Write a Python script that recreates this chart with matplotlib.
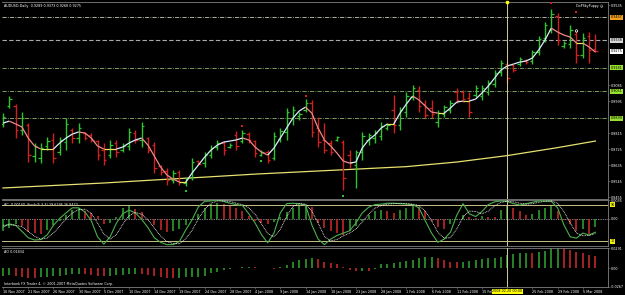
import matplotlib
matplotlib.use("Agg")
import matplotlib.pyplot as plt
from matplotlib.collections import LineCollection
import numpy as np

# --- AUDUSD daily bars, 16 Nov 2007 .. 7 Mar 2008 ---
open_ = [0.8866, 0.8967, 0.8967, 0.8832, 0.8860, 0.8686, 0.8674, 0.8742, 0.8776, 0.8708,
         0.8764, 0.8832, 0.8787, 0.8815, 0.8804, 0.8770, 0.8719, 0.8691, 0.8759, 0.8719,
         0.8742, 0.8815, 0.8776, 0.8787, 0.8747, 0.8629, 0.8601, 0.8551, 0.8596, 0.8534,
         0.8562, 0.8657, 0.8646, 0.8691, 0.8736, 0.8759, 0.8736, 0.8804, 0.8770, 0.8809,
         0.8770, 0.8691, 0.8708, 0.8674, 0.8781, 0.8821, 0.8899, 0.8910, 0.8944, 0.8984,
         0.8843, 0.8776, 0.8759, 0.8776, 0.8764, 0.8691, 0.8635, 0.8708, 0.8776, 0.8787,
         0.8798, 0.8843, 0.8944, 0.8860, 0.8933, 0.9017, 0.9057, 0.8978, 0.8956, 0.8877,
         0.8922, 0.8944, 0.9046, 0.9046, 0.9012, 0.9029, 0.9023, 0.9046, 0.9091, 0.9158,
         0.9203, 0.9197, 0.9203, 0.9226, 0.9220, 0.9270, 0.9349, 0.9394, 0.9473, 0.9304,
         0.9316, 0.9372, 0.9254, 0.9360, 0.9289]
high = [0.8927, 0.9023, 0.8978, 0.8933, 0.8871, 0.8759, 0.8759, 0.8792, 0.8815, 0.8792,
        0.8899, 0.8843, 0.8871, 0.8821, 0.8815, 0.8776, 0.8759, 0.8776, 0.8776, 0.8759,
        0.8843, 0.8832, 0.8877, 0.8792, 0.8764, 0.8635, 0.8618, 0.8607, 0.8607, 0.8567,
        0.8674, 0.8663, 0.8708, 0.8747, 0.8776, 0.8770, 0.8759, 0.8826, 0.8832, 0.8821,
        0.8776, 0.8719, 0.8719, 0.8821, 0.8843, 0.8956, 0.8967, 0.8933, 0.9006, 0.9001,
        0.8905, 0.8871, 0.8776, 0.8798, 0.8776, 0.8719, 0.8719, 0.8821, 0.8815, 0.8832,
        0.8877, 0.8871, 0.9029, 0.8961, 0.9046, 0.9085, 0.9079, 0.9001, 0.9001, 0.8944,
        0.8972, 0.9001, 0.9068, 0.9057, 0.9046, 0.9085, 0.9085, 0.9113, 0.9169, 0.9226,
        0.9214, 0.9203, 0.9242, 0.9231, 0.9282, 0.9360, 0.9439, 0.9512, 0.9490, 0.9332,
        0.9422, 0.9389, 0.9377, 0.9383, 0.9373]
low = [0.8849, 0.8956, 0.8787, 0.8804, 0.8652, 0.8652, 0.8646, 0.8719, 0.8646, 0.8691,
       0.8719, 0.8759, 0.8759, 0.8776, 0.8764, 0.8663, 0.8635, 0.8674, 0.8680, 0.8708,
       0.8719, 0.8759, 0.8736, 0.8702, 0.8590, 0.8579, 0.8522, 0.8534, 0.8522, 0.8517,
       0.8551, 0.8635, 0.8624, 0.8674, 0.8719, 0.8691, 0.8731, 0.8719, 0.8759, 0.8759,
       0.8680, 0.8686, 0.8646, 0.8663, 0.8764, 0.8776, 0.8860, 0.8888, 0.8933, 0.8792,
       0.8736, 0.8702, 0.8691, 0.8770, 0.8494, 0.8618, 0.8506, 0.8663, 0.8747, 0.8759,
       0.8776, 0.8832, 0.8815, 0.8832, 0.8905, 0.9001, 0.8933, 0.8899, 0.8899, 0.8849,
       0.8905, 0.8927, 0.8984, 0.8989, 0.8905, 0.9017, 0.9001, 0.9029, 0.9074, 0.9136,
       0.9096, 0.9158, 0.9192, 0.9203, 0.9203, 0.9254, 0.9327, 0.9377, 0.9310, 0.9293,
       0.9293, 0.9209, 0.9237, 0.9209, 0.9268]
close = [0.8905, 0.9006, 0.8832, 0.8899, 0.8691, 0.8742, 0.8731, 0.8770, 0.8674, 0.8776,
         0.8866, 0.8787, 0.8843, 0.8787, 0.8776, 0.8691, 0.8663, 0.8747, 0.8708, 0.8742,
         0.8821, 0.8776, 0.8854, 0.8719, 0.8618, 0.8596, 0.8551, 0.8590, 0.8539, 0.8556,
         0.8652, 0.8641, 0.8691, 0.8731, 0.8759, 0.8719, 0.8747, 0.8742, 0.8815, 0.8776,
         0.8702, 0.8708, 0.8663, 0.8798, 0.8826, 0.8933, 0.8944, 0.8922, 0.8984, 0.8821,
         0.8764, 0.8719, 0.8708, 0.8792, 0.8562, 0.8646, 0.8708, 0.8798, 0.8804, 0.8815,
         0.8854, 0.8860, 0.8860, 0.8944, 0.9023, 0.9068, 0.8967, 0.8916, 0.8922, 0.8927,
         0.8961, 0.8984, 0.9001, 0.9006, 0.8933, 0.9068, 0.9068, 0.9096, 0.9152, 0.9209,
         0.9124, 0.9169, 0.9231, 0.9214, 0.9270, 0.9344, 0.9422, 0.9484, 0.9338, 0.9321,
         0.9394, 0.9254, 0.9349, 0.9282, 0.9275]

# fast (colour-switching) moving average
ma_fast = [0.8871, 0.8882, 0.8866, 0.8849, 0.8787, 0.8742, 0.8725, 0.8725, 0.8725, 0.8759,
           0.8787, 0.8809, 0.8821, 0.8815, 0.8787, 0.8742, 0.8725, 0.8725, 0.8725, 0.8736,
           0.8759, 0.8776, 0.8787, 0.8747, 0.8686, 0.8624, 0.8579, 0.8556, 0.8539, 0.8539,
           0.8590, 0.8635, 0.8680, 0.8719, 0.8747, 0.8764, 0.8770, 0.8776, 0.8787, 0.8776,
           0.8736, 0.8708, 0.8691, 0.8731, 0.8787, 0.8843, 0.8899, 0.8939, 0.8961, 0.8927,
           0.8843, 0.8776, 0.8742, 0.8702, 0.8657, 0.8646, 0.8652, 0.8731, 0.8776, 0.8804,
           0.8843, 0.8866, 0.8866, 0.8927, 0.8978, 0.9023, 0.9001, 0.8967, 0.8933, 0.8927,
           0.8927, 0.8956, 0.8989, 0.8995, 0.8995, 0.9006, 0.9040, 0.9079, 0.9124, 0.9169,
           0.9192, 0.9203, 0.9214, 0.9220, 0.9237, 0.9282, 0.9338, 0.9405, 0.9383, 0.9366,
           0.9355, 0.9321, 0.9321, 0.9299, 0.9270]

# slow moving average (yellow), sampled every 8 bars
ma_slow_idx = [0, 8, 16, 24, 32, 40, 48, 56, 64, 72, 80, 88, 94]
ma_slow = [0.8506, 0.8520, 0.8534, 0.8551, 0.8567, 0.8584, 0.8598, 0.8612, 0.8626,
           0.8652, 0.8688, 0.8733, 0.8770]

# fractal markers
frac_up_idx = [38, 48, 87, 91]
frac_up_val = [0.8854, 0.9023, 0.9546, 0.9496]
frac_dn_idx = [29, 41, 54]
frac_dn_val = [0.8489, 0.8657, 0.8461]

# horizontal levels on the price panel
levels = [0.9467, 0.9338, 0.9181, 0.9051, 0.8899]
price_ticks = [0.9535, 0.9445, 0.9355, 0.9265, 0.9175, 0.9085, 0.8995, 0.8905,
               0.8815, 0.8725, 0.8635, 0.8545, 0.8455]

# Stochastic(5,3,3)
stoch_main = [41, 48, 45, 32, 18, 13, 14, 24, 45, 60, 72, 83, 83, 74, 55, 20, 4, 20, 50, 70,
              78, 72, 58, 40, 18, 8, 3, 3, 10, 35, 57, 85, 97, 98, 100, 97, 93, 90, 88, 70,
              50, 25, 7, 28, 72, 92, 93, 92, 89, 46, 15, 3, 15, 23, 28, 33, 50, 72, 84, 90,
              91, 93, 93, 92, 91, 90, 83, 55, 28, 8, 15, 30, 67, 92, 70, 64, 75, 90, 96, 98,
              97, 92, 89, 92, 95, 98, 98, 97, 83, 46, 20, 17, 28, 24, 30]
stoch_signal = [45, 46, 45, 42, 32, 21, 15, 17, 28, 43, 59, 72, 79, 80, 71, 50, 26, 15, 25, 47,
                66, 73, 69, 57, 39, 22, 10, 5, 5, 16, 34, 59, 80, 93, 98, 98, 97, 93, 90, 83,
                69, 48, 27, 20, 36, 64, 86, 92, 91, 76, 50, 21, 11, 14, 22, 28, 37, 52, 69, 82,
                88, 91, 92, 93, 92, 91, 88, 76, 55, 30, 17, 18, 37, 63, 76, 75, 70, 76, 87, 95,
                97, 96, 93, 91, 92, 95, 97, 98, 93, 75, 50, 28, 22, 23, 27]

# Accelerator oscillator
ac = [-0.0022, -0.0017, -0.0010, -0.0013, -0.0024, -0.0026, -0.0028, -0.0021, -0.0011, -0.0003,
      0.0008, 0.0017, 0.0020, 0.0014, 0.0011, 0.0005, -0.0010, -0.0007, 0.0004, 0.0020,
      0.0023, 0.0018, 0.0012, -0.0002, -0.0012, -0.0020, -0.0024, -0.0022, -0.0018, -0.0012,
      -0.0002, 0.0010, 0.0020, 0.0028, 0.0030, 0.0027, 0.0024, 0.0020, 0.0014, 0.0005,
      -0.0004, -0.0008, -0.0010, -0.0006, 0.0004, 0.0012, 0.0020, 0.0024, 0.0026, 0.0022,
      -0.0008, -0.0017, -0.0022, -0.0026, -0.0030, -0.0022, -0.0013, -0.0004, 0.0008, 0.0014,
      0.0017, 0.0014, 0.0011, 0.0016, 0.0020, 0.0026, 0.0022, 0.0014, -0.0004, -0.0014,
      -0.0018, -0.0010, -0.0002, 0.0008, 0.0003, 0.0002, 0.0005, 0.0004, 0.0003, 0.0016,
      0.0024, 0.0020, 0.0014, 0.0008, 0.0010, 0.0016, 0.0020, 0.0024, 0.0014, -0.0002,
      -0.0010, -0.0022, -0.0018, -0.0028, -0.0014]

# Awesome oscillator
ao = [-0.0110, -0.0100, -0.0115, -0.0130, -0.0140, -0.0145, -0.0130, -0.0120, -0.0115, -0.0105,
      -0.0095, -0.0085, -0.0080, -0.0085, -0.0095, -0.0105, -0.0115, -0.0110, -0.0100, -0.0090,
      -0.0085, -0.0080, -0.0085, -0.0100, -0.0115, -0.0125, -0.0135, -0.0140, -0.0135, -0.0130,
      -0.0125, -0.0120, -0.0115, -0.0070, -0.0050, -0.0030, -0.0015, 0.0005, 0.0015, 0.0024,
      0.0015, 0.0008, 0.0002, -0.0005, 0.0020, 0.0050, 0.0095, 0.0120, 0.0140, 0.0145,
      0.0130, 0.0095, 0.0080, 0.0057, 0.0024, -0.0024, -0.0038, -0.0034, -0.0038, -0.0014,
      0.0057, 0.0060, 0.0080, 0.0095, 0.0100, 0.0119, 0.0143, 0.0157, 0.0158, 0.0143,
      0.0119, 0.0095, 0.0093, 0.0096, 0.0105, 0.0119, 0.0129, 0.0143, 0.0145, 0.0157,
      0.0191, 0.0200, 0.0215, 0.0224, 0.0215, 0.0238, 0.0253, 0.0286, 0.0291, 0.0286,
      0.0262, 0.0238, 0.0215, 0.0195, 0.0183]

date_labels = ["16 Nov 2007", "21 Nov 2007", "26 Nov 2007", "30 Nov 2007", "5 Dec 2007",
               "10 Dec 2007", "14 Dec 2007", "19 Dec 2007", "24 Dec 2007", "28 Dec 2007",
               "4 Jan 2008", "9 Jan 2008", "14 Jan 2008", "18 Jan 2008", "23 Jan 2008",
               "28 Jan 2008", "1 Feb 2008", "6 Feb 2008", "11 Feb 2008", "15 Feb 2008",
               "20 Feb 2008", "25 Feb 2008", "29 Feb 2008", "5 Mar 2008"]
cursor_bar = 80

W, H = 625, 295
XMIN, XMAX = -0.16, 96.0
BG, FG, FRAME = "black", "white", "#808080"
UP, DOWN = "#2fc42f", "#d02020"
HIST_UP, HIST_DOWN = "#2e9a2e", "#c02828"
FS = 2.4


def px_box(x0, y0, x1, y1):
    """figure-fraction rect from a pixel box measured from the top-left corner"""
    return [x0 / W, 1 - y1 / H, (x1 - x0) / W, (y1 - y0) / H]


def right_ticks(ax):
    ax.yaxis.tick_right()
    ax.tick_params(axis="y", direction="out", length=1.5, width=0.4, color=FRAME,
                   labelsize=FS, labelcolor=FG, pad=0.8)


def style_axes(ax):
    ax.set_facecolor(BG)
    ax.set_xlim(XMIN, XMAX)
    ax.spines["left"].set_visible(False)
    for side in ("top", "bottom", "right"):
        ax.spines[side].set_color(FRAME)
        ax.spines[side].set_linewidth(0.6)
    right_ticks(ax)
    ax.tick_params(axis="x", bottom=False, labelbottom=False)


def tag(ax, y, text, face):
    ax.text(1.004, y, text, transform=ax.get_yaxis_transform(), ha="left", va="center",
            fontsize=FS, color="black", clip_on=False, zorder=6,
            bbox=dict(boxstyle="square,pad=0.15", fc=face, ec="none"))


def rising_colors(vals, up, down):
    v = np.asarray(vals)
    prev = np.concatenate([[v[0] - 1], v[:-1]])
    return np.where(v > prev, up, down)


fig = plt.figure(figsize=(W / 100, H / 100), dpi=100, facecolor=BG)
ax = fig.add_axes(px_box(2, 2, 608, 199))
ac_ax = fig.add_axes(px_box(2, 200, 608, 246))
ao_ax = fig.add_axes(px_box(2, 248, 608, 287))
for a in (ax, ac_ax, ao_ax):
    style_axes(a)

x = np.arange(len(close))
o, h, l, c = (np.asarray(v) for v in (open_, high, low, close))

# --- price panel ---
ax.set_ylim(0.8444, 0.9552)
tagged = [levels[0], levels[1], close[-1]] + levels[2:]
# the coloured price tags hide the scale labels underneath them
shown = [p for p in price_ticks if min(abs(p - t) for t in tagged) > 0.0028]
ax.set_yticks(shown)
ax.set_yticklabels([f"{p:.4f}" for p in shown])

level_styles = [("#cfc8b8", (0, (5, 1.5, 1, 1.5)), 0.6),
                ("#a8a8a8", (0, (4, 2)), 0.8),
                ("#8fb870", (0, (5, 1.5, 1, 1.5)), 0.6),
                ("#8fb870", (0, (5, 1.5, 1, 1.5)), 0.6),
                ("#8fb870", (0, (5, 1.5, 1, 1.5)), 0.6)]
for lv, (color, ls, lw) in zip(levels, level_styles):
    ax.axhline(lv, color=color, ls=ls, lw=lw, zorder=1)

ax.plot(ma_slow_idx, ma_slow, color="#e8e070", lw=0.9, zorder=2)

col = np.where(c >= o, UP, DOWN)
ax.vlines(x, l, h, colors=col, lw=1.0, zorder=3)
ax.hlines(o, x - 0.38, x, colors=col, lw=0.9, zorder=3)
ax.hlines(c, x, x + 0.38, colors=col, lw=0.9, zorder=3)

pts = np.column_stack([x, ma_fast])
segs = np.stack([pts[:-1], pts[1:]], axis=1)
d = np.diff(ma_fast)
seg_col = np.where(d > 0.0004, "#d8eeff", np.where(d < -0.0004, "#f08a8a", "#ece464"))
ax.add_collection(LineCollection(segs, colors=seg_col, linewidths=0.9, zorder=4))

ax.scatter(frac_up_idx, frac_up_val, marker="s", s=1.6, color=DOWN, lw=0, zorder=5)
ax.scatter(frac_dn_idx, frac_dn_val, marker="s", s=1.6, color=UP, lw=0, zorder=5)
ax.scatter([91], [0.9389], marker="o", s=3, facecolors="none", edgecolors="white",
           linewidths=0.5, zorder=5)

ax.text(0.003, 0.99, "AUDUSD,Daily  0.9289 0.9373 0.9268 0.9275", transform=ax.transAxes,
        ha="left", va="top", fontsize=FS, color=FG)
ax.text(0.993, 0.99, "DoPSkyPuppy \u263a", transform=ax.transAxes,
        ha="right", va="top", fontsize=FS, color=FG)

tag(ax, levels[0], "0.9467", "#f0a020")
tag(ax, levels[1], "0.9338", "#d8d8d8")
tag(ax, close[-1], f"{close[-1]:.4f}", "#ffffff")
for lv in levels[2:]:
    tag(ax, lv, f"{lv:.4f}", "#98e030")

# --- AC + Stochastic panel ---
ac_ax.set_ylim(-0.0050, 0.0035)
ac_ax.axhline(0, color="white", ls=(0, (1, 1.5)), lw=0.5, zorder=1)
ac_ax.vlines(x, 0, ac, colors=rising_colors(ac, HIST_UP, HIST_DOWN), lw=1.2, zorder=2)
st_ax = ac_ax.twinx()
st_ax.set_ylim(0, 100)
st_ax.set_xlim(XMIN, XMAX)
st_ax.axis("off")
# twinx moves the host's ticks to the left, put them back on the right
right_ticks(ac_ax)
ac_ax.set_yticks([0.0035, 0])
ac_ax.set_yticklabels(["0.0035", "0.00"])
st_ax.axhline(90, color="#c8c08c", lw=0.7)
st_ax.axhline(10, color="#c8c08c", lw=0.7)
st_ax.plot(x, stoch_main, color="#4caf4c", lw=0.8)
st_ax.plot(x, stoch_signal, color="white", ls=(0, (1, 1)), lw=0.6)
tag(st_ax, 90, "90", "#f0f000")
tag(st_ax, 10, "10", "#f0f000")
ac_ax.text(0.003, 0.93, "AC -0.00140  Stoch(5,3,3) 29.6296 26.8473", transform=ac_ax.transAxes,
           ha="left", va="top", fontsize=FS, color=FG, zorder=6)

# --- AO panel ---
ao_ax.set_ylim(-0.0267, 0.0291)
ao_ax.set_yticks([0.0291, 0, -0.0267])
ao_ax.set_yticklabels(["0.0291", "0.00", "-0.0267"])
ao_ax.vlines(x, 0, ao, colors=rising_colors(ao, HIST_UP, HIST_DOWN), lw=1.2, zorder=2)
ao_ax.text(0.003, 0.95, "AO 0.01834", transform=ao_ax.transAxes,
           ha="left", va="top", fontsize=FS, color=FG)
ao_ax.text(0.003, 0.03, "Interbank FX Trader 4, \u00a9 2001-2007 MetaQuotes Software Corp.",
           transform=ao_ax.transAxes, ha="left", va="bottom", fontsize=FS, color=FG)

# the date under the cursor is covered by the yellow cursor label
tick_pos = list(range(0, 4 * len(date_labels), 4))
tick_txt = ["" if p == cursor_bar else s for p, s in zip(tick_pos, date_labels)]
ao_ax.set_xticks(tick_pos)
ao_ax.set_xticklabels(tick_txt, ha="left")
ao_ax.tick_params(axis="x", bottom=True, labelbottom=True, direction="out", length=1.5,
                  width=0.4, color=FRAME, labelsize=FS, labelcolor=FG, pad=0.8)

# --- cursor line across all panels ---
for a in (ax, ac_ax, ao_ax):
    a.axvline(cursor_bar, color="#d4cca0", lw=0.7, zorder=4.5)
ax.plot(cursor_bar, 1.0, transform=ax.get_xaxis_transform(), marker="s", ms=1.8,
        color="#ffff00", clip_on=False, zorder=7)
ao_ax.text(cursor_bar, -0.115, "2008.02.20 00:00", transform=ao_ax.get_xaxis_transform(),
           ha="center", va="center", fontsize=FS, color="black", clip_on=False, zorder=8,
           bbox=dict(boxstyle="square,pad=0.2", fc="#ffff00", ec="none"))

fig.savefig("out.png", dpi=100, facecolor=BG)
